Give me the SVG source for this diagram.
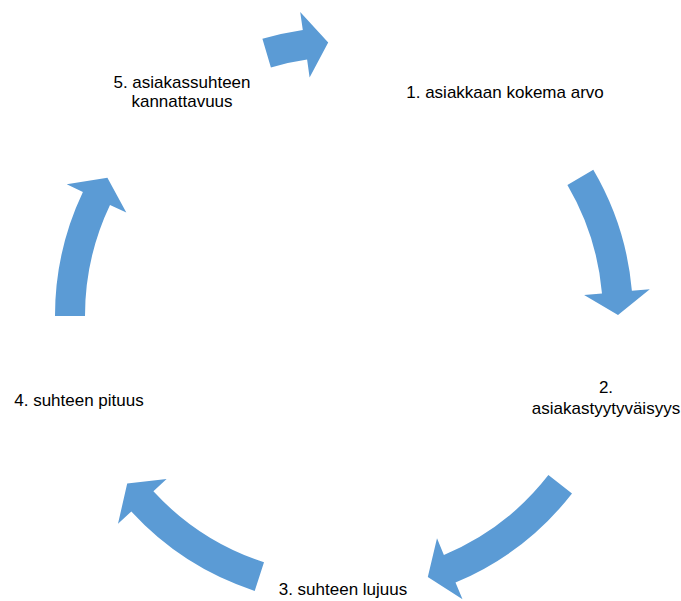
<svg xmlns="http://www.w3.org/2000/svg" width="681" height="601" viewBox="0 0 681 601">
<style>
.arrow{fill:#5B9BD5;stroke:none}
.lbl{font-family:"Liberation Sans",Arial,sans-serif;font-size:17px;fill:#000;text-anchor:middle}
</style>
<rect width="681" height="601" fill="#fff"/>
<g id="connectors">
<path id="c1" class="arrow" d="M593.3,169.8 A289,289 0 0 1 631.9,290.8 L649.8,289.2 L618,315 L584.1,295 L602,293.4 A259,259 0 0 0 567.4,184.9 Z"/>
<path id="c2" class="arrow" d="M572,493.5 A289,289 0 0 1 455.5,582.6 L462.5,599.2 L427.8,576.9 L437,538.3 L443.9,554.9 A259,259 0 0 0 548.4,475.1 Z"/>
<path id="c3" class="arrow" d="M254.7,590.9 A289,289 0 0 1 131.3,511.6 L118,523.8 L127.2,483.6 L166.6,479.1 L153.4,491.3 A259,259 0 0 0 264,562.3 Z"/>
<path id="c4" class="arrow" d="M55,316 A289,289 0 0 1 82.9,192 L66.7,184.3 L107.4,177.8 L126.3,212.6 L110,204.9 A259,259 0 0 0 85,316 Z"/>
<path id="c5" class="arrow" d="M262.4,38.8 A289,289 0 0 1 302.8,29.9 L300.2,12.1 L328.2,42.5 L309.6,77.5 L307.1,59.6 A259,259 0 0 0 270.9,67.5 Z"/>
</g>
<g id="node1"><text class="lbl" x="505" y="98">1. asiakkaan kokema arvo</text></g>
<g id="node2"><text class="lbl" x="606" y="393">2.</text><text class="lbl" x="606" y="414">asiakastyytyväisyys</text></g>
<g id="node3"><text class="lbl" x="343" y="595">3. suhteen lujuus</text></g>
<g id="node4"><text class="lbl" x="79" y="406">4. suhteen pituus</text></g>
<g id="node5"><text class="lbl" x="182" y="88">5. asiakassuhteen</text><text class="lbl" x="182" y="107">kannattavuus</text></g>
</svg>
